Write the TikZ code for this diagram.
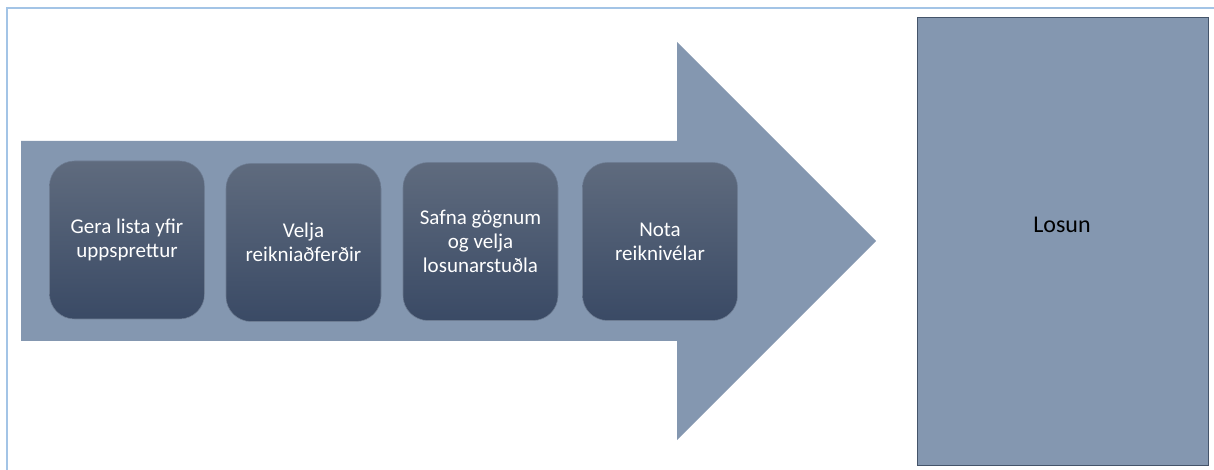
\documentclass[tikz,border=0pt]{standalone}
\usepackage{fontspec}
\setmainfont{Carlito}
\usetikzlibrary{positioning}
\definecolor{frame-blue}{HTML}{A3C4E6}
\definecolor{arrow-grey}{HTML}{8497B0}
\definecolor{step-top}{HTML}{5F6B7E}
\definecolor{step-bottom}{HTML}{3A4A65}
\definecolor{step-edge}{HTML}{6E7D93}
\definecolor{out-edge}{HTML}{44546A}
\newlength{\px}
\setlength{\px}{0.75pt}

\tikzset{
    stepbox/.style={minimum height=158\px, minimum width=155\px, rounded corners=25\px,
        top color=step-top, bottom color=step-bottom, draw=step-edge, line width=0.4pt,
        text=white, align=center, inner sep=0pt,
        font=\fontsize{15.75pt}{18pt}\selectfont},
    outbox/.style={minimum height=448\px, minimum width=291\px, fill=arrow-grey,
        draw=out-edge, line width=0.6pt, inner sep=0pt}
}

\begin{document}
\begin{tikzpicture}
    \useasboundingbox (0,0) rectangle (1214\px,-470\px);

    % frame
    \coordinate (FrameLeft) at (7\px,-470\px);
    \coordinate (FrameCorner) at (7\px,-8\px);
    \coordinate (FrameRight) at (1214\px,-8\px);
    \draw[frame-blue, line width=1.5pt] (FrameLeft) -- (FrameCorner) -- (FrameRight);

    % big arrow
    \fill[arrow-grey] (21\px,-141\px) -- (677\px,-141\px) -- (677\px,-42\px)
        -- (876\px,-241\px) -- (677\px,-440\px) -- (677\px,-341\px)
        -- (21\px,-341\px) -- cycle;

    \draw (127\px,-240\px)
		node[stepbox] (Sources) {Gera lista yfir\\uppsprettur};

    \draw (303.5\px,-242.5\px)
		node[stepbox] (Methods) {Velja\\reikniaðferðir};

    \draw (480.5\px,-241.5\px)
		node[stepbox] (Factors) {Safna gögnum\\og velja\\losunarstuðla};

    \draw (660\px,-241.5\px)
		node[stepbox] (Calculators) {Nota\\reiknivélar};

    \draw (1062.5\px,-241\px)
		node[outbox] (Emission) {};
    \draw (1062\px,-225\px)
		node[font=\fontsize{18pt}{21pt}\selectfont, inner sep=0pt] (EmissionLabel) {Losun};
\end{tikzpicture}
\end{document}
